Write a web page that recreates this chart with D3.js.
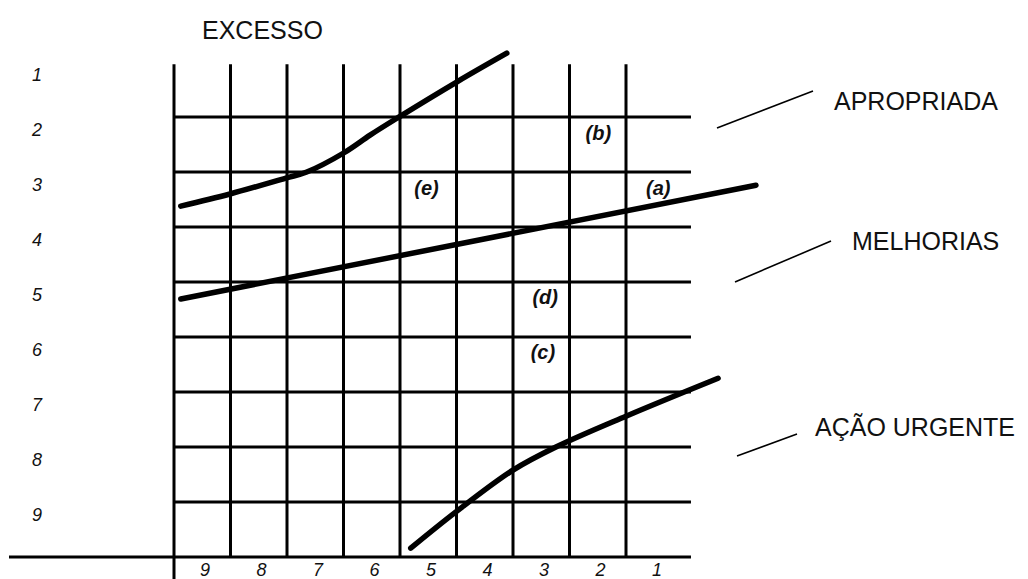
<!DOCTYPE html>
<html>
<head>
<meta charset="utf-8">
<script src="https://cdn.jsdelivr.net/npm/d3@7"></script>
<style>
	body { margin: 0; background: #fff; }
	svg text { font-family: "Liberation Sans", Arial, sans-serif; fill: #111; }
</style>
</head>
<body>
<figure id="chart" style="margin:0"></figure>
<script>
// row labels (left) and column labels (bottom)
var rowLabels = ["1", "2", "3", "4", "5", "6", "7", "8", "9"];
var colLabels = ["9", "8", "7", "6", "5", "4", "3", "2", "1"];

// curves in grid units: x = columns from the left edge, y = rows from the top
var curveE = [ [0.12, 2.62], [0.99, 2.40], [1.98, 2.11], [2.35, 2.00], [3.01, 1.65], [3.47, 1.33], [3.95, 1.02], [5.01, 0.36], [5.89, -0.16] ];
var curveA = [ [0.12, 4.31], [10.3, 2.24] ];
var curveC = [ [4.19, 8.84], [4.99, 8.18], [6.00, 7.42], [6.76, 7.00], [8.00, 6.44], [9.63, 5.75] ];

// letters inside the grid
var notes = [
	{ label: "(b)", x: 7.51, y: 1.29 },
	{ label: "(e)", x: 4.47, y: 2.29 },
	{ label: "(a)", x: 8.57, y: 2.29 },
	{ label: "(d)", x: 6.57, y: 4.27 },
	{ label: "(c)", x: 6.53, y: 5.27 }
];

// zone names on the right
var zones = ["APROPRIADA", "MELHORIAS", "AÇÃO URGENTE"];

var dimensions = { width: 1028, height: 579 };

var svg = d3.select("#chart")
	.append("svg")
	.attr("width", dimensions.width)
	.attr("height", dimensions.height);

// grid scales: 9 columns, 9 rows
var xScale = d3.scaleLinear().domain([0, 9]).range([174, 682.5]);
var yScale = d3.scaleLinear().domain([0, 9]).range([62, 557]);

var grid = svg.append("g").attr("stroke", "#000").attr("stroke-width", 3);

// horizontal grid lines
grid.selectAll("line.h")
	.data(d3.range(1, 9))
	.enter().append("line")
	.attr("class", "h")
	.attr("x1", xScale(0))
	.attr("x2", xScale(9.15))
	.attr("y1", d => yScale(d))
	.attr("y2", d => yScale(d));

// vertical grid lines, the first one runs past the base line
grid.selectAll("line.v")
	.data(d3.range(0, 9))
	.enter().append("line")
	.attr("class", "v")
	.attr("x1", d => xScale(d))
	.attr("x2", d => xScale(d))
	.attr("y1", yScale(0.04))
	.attr("y2", d => d === 0 ? dimensions.height : yScale(9));

// base line
grid.append("line")
	.attr("x1", 9)
	.attr("x2", xScale(9.15))
	.attr("y1", yScale(9))
	.attr("y2", yScale(9));

// labels
svg.selectAll("text.row")
	.data(rowLabels)
	.enter().append("text")
	.attr("class", "row")
	.attr("x", 37)
	.attr("y", (d, i) => yScale(i) + 13)
	.attr("dy", "0.35em")
	.attr("text-anchor", "middle")
	.style("font-size", "18px")
	.style("font-style", "italic")
	.text(d => d);

svg.selectAll("text.col")
	.data(colLabels)
	.enter().append("text")
	.attr("class", "col")
	.attr("x", (d, i) => xScale(i + 0.55))
	.attr("y", 570)
	.attr("dy", "0.35em")
	.attr("text-anchor", "middle")
	.style("font-size", "18px")
	.style("font-style", "italic")
	.text(d => d);

svg.append("text")
	.attr("x", 202)
	.attr("y", 39)
	.style("font-size", "25px")
	.text("EXCESSO");

// curves
var line = d3.line()
	.x(d => xScale(d[0]))
	.y(d => yScale(d[1]))
	.curve(d3.curveCatmullRom);

svg.selectAll("path.curve")
	.data([curveE, curveA, curveC])
	.enter().append("path")
	.attr("class", "curve")
	.attr("d", line)
	.attr("fill", "none")
	.attr("stroke", "#000")
	.attr("stroke-width", 5.5)
	.attr("stroke-linecap", "round");

svg.selectAll("text.note")
	.data(notes)
	.enter().append("text")
	.attr("class", "note")
	.attr("x", d => xScale(d.x))
	.attr("y", d => yScale(d.y))
	.attr("dy", "0.35em")
	.attr("text-anchor", "middle")
	.style("font-size", "20px")
	.style("font-weight", "bold")
	.style("font-style", "italic")
	.text(d => d.label);

// zone names with their leader lines
var zoneText = [ { x: 834, y: 110 }, { x: 852, y: 250 }, { x: 815, y: 436 } ];
var leaders = [ [717, 128, 813, 91], [735, 282, 831, 241], [737, 456, 797, 434] ];

svg.selectAll("line.leader")
	.data(leaders)
	.enter().append("line")
	.attr("class", "leader")
	.attr("x1", d => d[0]).attr("y1", d => d[1])
	.attr("x2", d => d[2]).attr("y2", d => d[3])
	.attr("stroke", "#000")
	.attr("stroke-width", 1.6);

svg.selectAll("text.zone")
	.data(zones)
	.enter().append("text")
	.attr("class", "zone")
	.attr("x", (d, i) => zoneText[i].x)
	.attr("y", (d, i) => zoneText[i].y)
	.style("font-size", "25px")
	.text(d => d);
</script>
</body>
</html>
